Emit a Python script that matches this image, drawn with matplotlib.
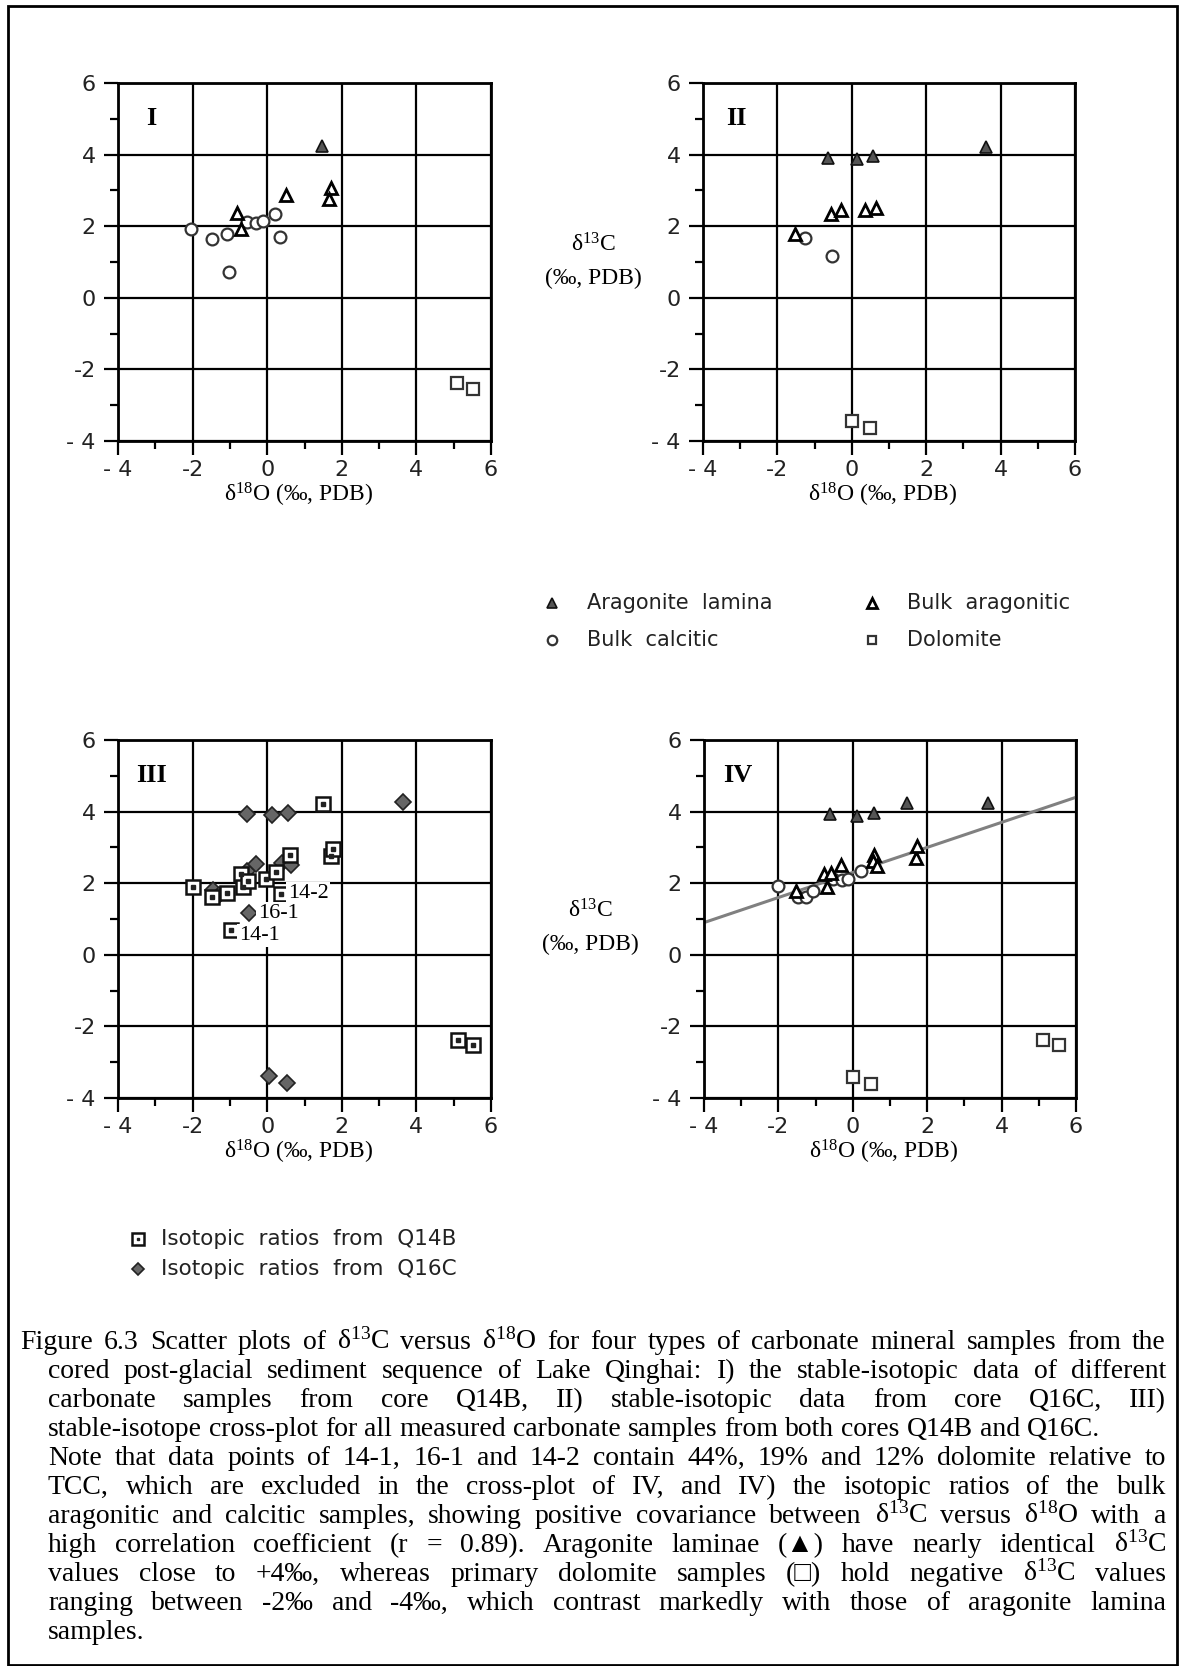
import matplotlib
matplotlib.use("Agg")
import matplotlib.pyplot as plt
from matplotlib.patches import Rectangle

plt.rcParams['mathtext.fontset'] = 'custom'
plt.rcParams['mathtext.rm'] = 'Liberation Serif'
plt.rcParams['mathtext.it'] = 'Liberation Serif:italic'

# ---- data (d18O, d13C) ----
# panel I, core Q14B
calc_I_x = [-2.05, -1.48, -1.08, -1.03, -0.54, -0.30, -0.12, 0.22, 0.35]
calc_I_y = [1.92, 1.63, 1.78, 0.73, 2.12, 2.10, 2.14, 2.33, 1.70]
arag_I_x = [-0.81, -0.70, 0.50, 1.72, 1.65]
arag_I_y = [2.37, 1.92, 2.87, 3.08, 2.76]
lam_I_x = [1.46]
lam_I_y = [4.25]
dol_I_x = [5.10, 5.51]
dol_I_y = [-2.39, -2.54]

# panel II, core Q16C
lam_II_x = [-0.63, 0.13, 0.58, 3.60]
lam_II_y = [3.91, 3.89, 3.95, 4.20]
arag_II_x = [-1.52, -0.57, -0.29, 0.35, 0.66]
arag_II_y = [1.77, 2.33, 2.45, 2.45, 2.52]
calc_II_x = [-1.27, -0.52]
calc_II_y = [1.66, 1.17]
dol_II_x = [0.00, 0.49]
dol_II_y = [-3.43, -3.65]

# panel III, both cores
q14_x = [-1.98, -1.48, -1.08, -0.98, -0.70, -0.65, -0.52, -0.03, 0.24, 0.38,
         0.62, 1.50, 1.70, 1.77, 5.12, 5.51]
q14_y = [1.90, 1.61, 1.74, 0.69, 2.27, 1.88, 2.05, 2.12, 2.32, 1.70,
         2.78, 4.20, 2.75, 2.96, -2.38, -2.51]
q16_x = [-0.54, 0.13, 0.57, 3.63, -1.46, -1.28, -0.54, -0.29, 0.40, 0.65,
         -0.49, 0.04, 0.54]
q16_y = [3.94, 3.90, 3.96, 4.26, 1.81, 1.68, 2.33, 2.55, 2.56, 2.51,
         1.16, -3.38, -3.57]
note_labels = ['14-2', '16-1', '14-1']
note_x = [0.55, -0.25, -0.76]
note_y = [1.70, 1.16, 0.53]

# panel IV, excluding the dolomite-bearing points
lam_IV_x = [-0.60, 0.11, 0.57, 1.47, 3.64]
lam_IV_y = [3.93, 3.87, 3.95, 4.23, 4.23]
arag_IV_x = [-1.52, -0.77, -0.58, -0.70, -0.33, 0.58, 0.53, 0.64, 1.70, 1.72]
arag_IV_y = [1.77, 2.27, 2.29, 1.90, 2.52, 2.80, 2.63, 2.47, 2.70, 3.03]
calc_IV_x = [-2.00, -1.48, -1.27, -1.08, -0.52, -0.30, -0.12, 0.22]
calc_IV_y = [1.92, 1.62, 1.62, 1.78, 2.12, 2.10, 2.12, 2.33]
dol_IV_x = [5.12, 5.55, 0.00, 0.50]
dol_IV_y = [-2.37, -2.51, -3.40, -3.62]
fit_x = [-4, 6]
fit_y = [0.90, 4.40]

tick_vals = [-4, -2, 0, 2, 4, 6]
tick_text = ['- 4', '-2', '0', '2', '4', '6']

caption = [
    "Figure 6.3 Scatter plots of δ$^{13}$C versus δ$^{18}$O for four types of carbonate mineral samples from the",
    "cored post-glacial sediment sequence of Lake Qinghai: I) the stable-isotopic data of different",
    "carbonate samples from core Q14B, II) stable-isotopic data from core Q16C, III)",
    "stable-isotope cross-plot for all measured carbonate samples from both cores Q14B and Q16C.",
    "Note that data points of 14-1, 16-1 and 14-2 contain 44%, 19% and 12% dolomite relative to",
    "TCC, which are excluded in the cross-plot of IV, and IV) the isotopic ratios of the bulk",
    "aragonitic and calcitic samples, showing positive covariance between δ$^{13}$C versus δ$^{18}$O with a",
    "high correlation coefficient (r = 0.89). Aragonite laminae (▲) have nearly identical δ$^{13}$C",
    "values close to +4‰, whereas primary dolomite samples (□) hold negative δ$^{13}$C values",
    "ranging between -2‰ and -4‰, which contrast markedly with those of aragonite lamina",
    "samples.",
]
justified = [True, True, True, False, True, True, True, True, True, True, False]

W, H = 1180, 1666
fig = plt.figure(figsize=(W / 100, H / 100), dpi=100)


def fx(x):
    return x / W


def fy(y):
    return 1 - y / H


sty_lam = dict(ls='none', marker='^', ms=9, mfc='#555555', mec='#111111', mew=1.2)
sty_arag = dict(ls='none', marker='^', ms=8.5, mfc='white', mec='black', mew=2)
sty_calc = dict(ls='none', marker='o', ms=8.5, mfc='white', mec='#333333', mew=1.6)
sty_dol = dict(ls='none', marker='s', ms=8, mfc='white', mec='#333333', mew=1.6)
sty_q14 = dict(ls='none', marker='s', ms=10, mfc='white', mec='#111111', mew=1.8)
sty_q16 = dict(ls='none', marker='D', ms=8, mfc='#666666', mec='#222222', mew=1.2)


def make_axes(left, right, top, bottom, label):
    ax = fig.add_axes([fx(left), fy(bottom), (right - left) / W, (bottom - top) / H])
    ax.set_xlim(-4, 6)
    ax.set_ylim(-4, 6)
    ax.set_xticks(tick_vals)
    ax.set_yticks(tick_vals)
    ax.set_xticks([-3, -1, 1, 3, 5], minor=True)
    ax.set_yticks([-3, -1, 1, 3, 5], minor=True)
    ax.set_xticklabels(tick_text, fontsize=16, family='DejaVu Sans', color='#222222')
    ax.set_yticklabels(tick_text, fontsize=16, family='DejaVu Sans', color='#222222')
    ax.tick_params(which='major', direction='out', length=10, width=1.6, pad=6)
    ax.tick_params(axis='x', which='major', pad=4)
    ax.tick_params(which='minor', direction='out', length=6, width=1.6)
    ax.grid(True, which='major', color='black', lw=1.6)
    for s in ax.spines.values():
        s.set_linewidth(2)
    ax.text(-3.1, 5.0, label, fontsize=19, family='Liberation Serif',
            fontweight='bold', ha='center', va='center')
    fig.text(fx((left + right) / 2 - 6), fy(bottom + 54), 'δ$^{18}$O (‰, PDB)',
             fontsize=17, family='Liberation Serif', ha='center', va='center')
    return ax


ax1 = make_axes(118, 491, 83, 441, 'I')
ax1.plot(calc_I_x, calc_I_y, **sty_calc)
ax1.plot(arag_I_x, arag_I_y, **sty_arag)
ax1.plot(lam_I_x, lam_I_y, **sty_lam)
ax1.plot(dol_I_x, dol_I_y, **sty_dol)

ax2 = make_axes(703, 1075, 83, 441, 'II')
ax2.plot(calc_II_x, calc_II_y, **sty_calc)
ax2.plot(arag_II_x, arag_II_y, **sty_arag)
ax2.plot(lam_II_x, lam_II_y, **sty_lam)
ax2.plot(dol_II_x, dol_II_y, **sty_dol)

ax3 = make_axes(118, 491, 740, 1098, 'III')
ax3.plot(q16_x, q16_y, **sty_q16)
ax3.plot(q14_x, q14_y, **sty_q14)
ax3.plot(q14_x, q14_y, ls='none', marker='s', ms=2.5, mfc='#222222', mec='#222222')
for lab, x, y in zip(note_labels, note_x, note_y):
    ax3.text(x, y, lab, fontsize=16, family='Liberation Serif', ha='left', va='center',
             bbox=dict(facecolor='white', edgecolor='none', pad=1.5), zorder=5)

ax4 = make_axes(704, 1076, 740, 1098, 'IV')
ax4.plot(fit_x, fit_y, color='#808080', lw=2.2, zorder=2)
ax4.plot(calc_IV_x, calc_IV_y, **sty_calc)
ax4.plot(arag_IV_x, arag_IV_y, **sty_arag)
ax4.plot(lam_IV_x, lam_IV_y, **sty_lam)
ax4.plot(dol_IV_x, dol_IV_y, **sty_dol)

# y labels between the panels
for ycen, xcen in [(245, 593), (911, 590)]:
    fig.text(fx(xcen), fy(ycen), 'δ$^{13}$C', fontsize=17, family='Liberation Serif',
             ha='center', va='center')
    fig.text(fx(xcen), fy(ycen + 33), '(‰, PDB)', fontsize=17, family='Liberation Serif',
             ha='center', va='center')

# legend for panels I, II, IV
leg_items = [
    (552, 603, sty_lam, 'Aragonite  lamina'),
    (552, 640, sty_calc, 'Bulk  calcitic'),
    (872, 603, sty_arag, 'Bulk  aragonitic'),
    (872, 640, sty_dol, 'Dolomite'),
]
legax = fig.add_axes([0, 0, 1, 1], facecolor='none')
legax.set_xlim(0, W)
legax.set_ylim(H, 0)
legax.axis('off')
for x, y, sty, txt in leg_items:
    s = dict(sty)
    s['ms'] = s['ms'] * 0.8
    legax.plot([x], [y], **s)
    legax.text(x + 35, y, txt, fontsize=15, family='DejaVu Sans', color='#222222',
               ha='left', va='center')

# legend for panel III
legax.plot([138], [1239], **dict(sty_q14, ms=8))
legax.plot([138], [1239], ls='none', marker='s', ms=2, mfc='#222222', mec='#222222')
legax.plot([138], [1269], **dict(sty_q16, ms=6.5))
legax.text(161, 1239, 'Isotopic  ratios  from  Q14B', fontsize=15.5, family='DejaVu Sans',
           color='#222222', ha='left', va='center')
legax.text(161, 1269, 'Isotopic  ratios  from  Q16C', fontsize=15.5, family='DejaVu Sans',
           color='#222222', ha='left', va='center')

# caption, justified word by word
cap_fs = 20
cap_fam = ['Liberation Serif', 'DejaVu Serif']
renderer = fig.canvas.get_renderer()


def word_w(w):
    t = fig.text(0, 0, w, fontsize=cap_fs, family=cap_fam)
    wd = t.get_window_extent(renderer).width
    t.remove()
    return wd


space_w = word_w('a b') - word_w('ab')
right_edge = 1166
for i, line in enumerate(caption):
    left = 20 if i == 0 else 48
    base = 1349 + i * 29
    words = line.split(' ')
    widths = [word_w(w) for w in words]
    if justified[i] and len(words) > 1:
        gap = (right_edge - left - sum(widths)) / (len(words) - 1)
    else:
        gap = space_w
    x = left
    for w, wd in zip(words, widths):
        fig.text(fx(x), fy(base), w, fontsize=cap_fs, family=cap_fam,
                 ha='left', va='baseline')
        x += wd + gap

# frame around the whole figure
fig.add_artist(Rectangle((fx(8), fy(1665)), fx(1177) - fx(8), fy(6) - fy(1665),
                         transform=fig.transFigure, fill=False, lw=2, ec='black'))

fig.savefig('out.png', dpi=100)
